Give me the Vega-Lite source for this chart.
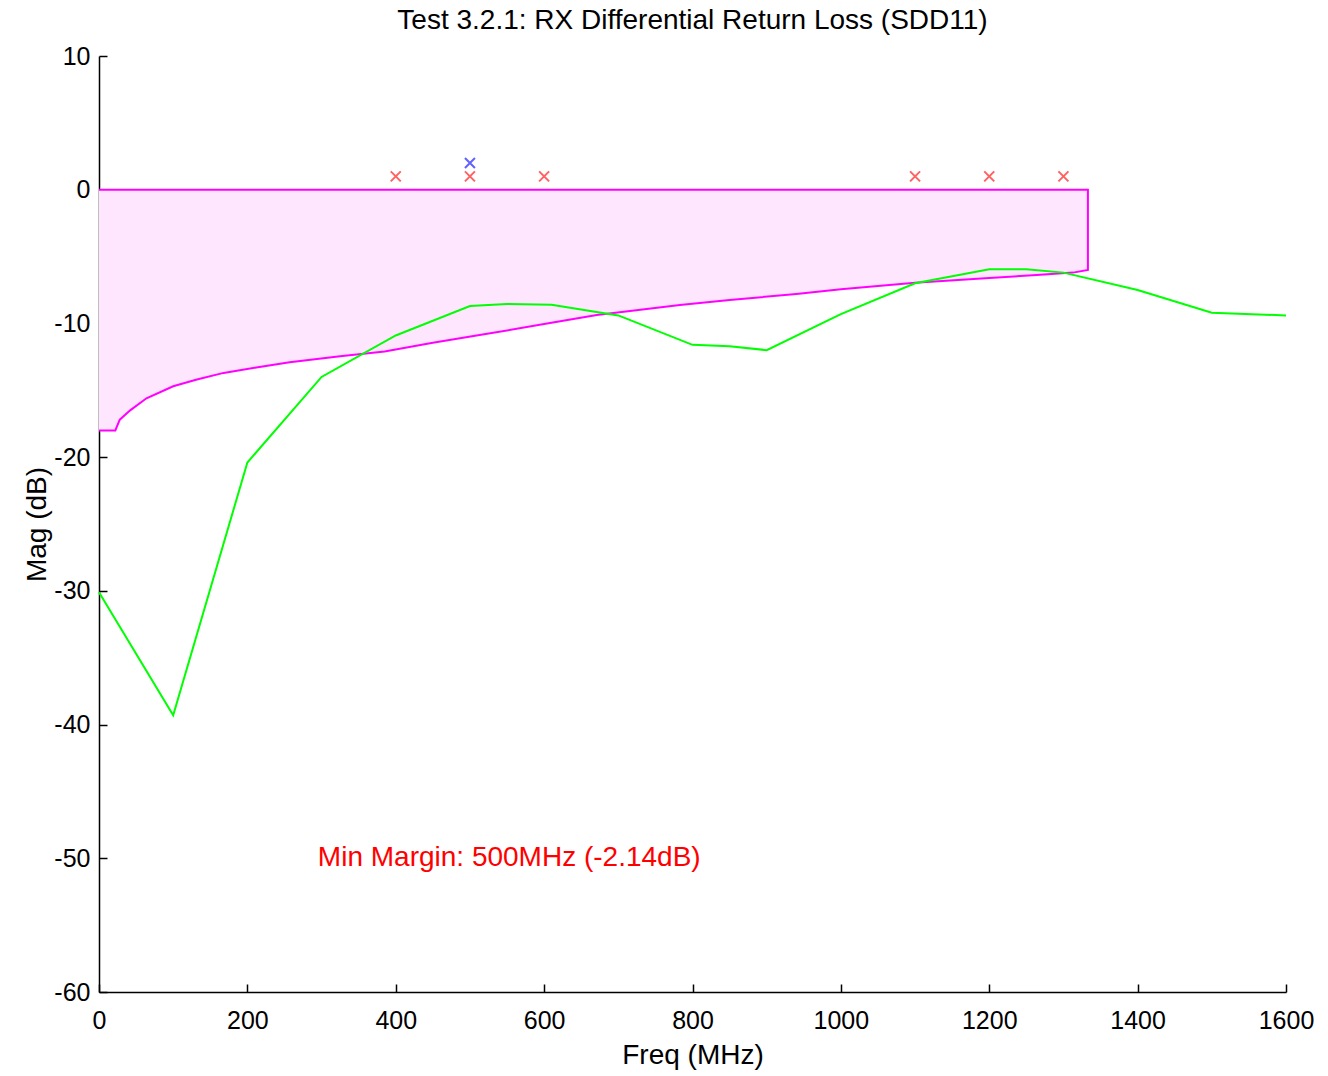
{
  "$schema": "https://vega.github.io/schema/vega-lite/v6.json",
  "autosize": "none",
  "width": 1187,
  "height": 936,
  "padding": {"left": 99, "top": 56, "right": 42, "bottom": 84},
  "background": "white",
  "config": {
    "font": "Liberation Sans",
    "view": {"stroke": null},
    "axis": {
      "grid": false,
      "domainColor": "black",
      "domainWidth": 1.5,
      "tickColor": "black",
      "tickWidth": 1.5,
      "tickSize": -8,
      "labelColor": "black",
      "titleColor": "black",
      "labelFont": "Liberation Sans",
      "titleFont": "Liberation Sans",
      "labelFontSize": 25,
      "titleFontSize": 28,
      "titleFontWeight": "normal",
      "labelFlush": false,
      "labelOverlap": false,
      "labelExpr": "toString(datum.value)"
    }
  },
  "title": {
    "text": "Test 3.2.1: RX Differential Return Loss (SDD11)",
    "fontSize": 28,
    "fontWeight": "normal",
    "color": "black",
    "font": "Liberation Sans",
    "anchor": "middle",
    "offset": 9
  },
  "datasets": {
    "mask": [
      {"f": 0, "lo": -18, "hi": 0},
      {"f": 22, "lo": -18, "hi": 0},
      {"f": 28, "lo": -17.2, "hi": 0},
      {"f": 42, "lo": -16.5, "hi": 0},
      {"f": 64, "lo": -15.6, "hi": 0},
      {"f": 100, "lo": -14.7, "hi": 0},
      {"f": 132, "lo": -14.2, "hi": 0},
      {"f": 168, "lo": -13.7, "hi": 0},
      {"f": 212, "lo": -13.3, "hi": 0},
      {"f": 257, "lo": -12.9, "hi": 0},
      {"f": 325, "lo": -12.45, "hi": 0},
      {"f": 385, "lo": -12.1, "hi": 0},
      {"f": 450, "lo": -11.45, "hi": 0},
      {"f": 513, "lo": -10.87, "hi": 0},
      {"f": 600, "lo": -10.05, "hi": 0},
      {"f": 671, "lo": -9.37, "hi": 0},
      {"f": 783, "lo": -8.62, "hi": 0},
      {"f": 850, "lo": -8.25, "hi": 0},
      {"f": 940, "lo": -7.8, "hi": 0},
      {"f": 1000, "lo": -7.45, "hi": 0},
      {"f": 1100, "lo": -6.95, "hi": 0},
      {"f": 1200, "lo": -6.6, "hi": 0},
      {"f": 1264, "lo": -6.38, "hi": 0},
      {"f": 1313, "lo": -6.2, "hi": 0},
      {"f": 1333, "lo": -6.0, "hi": 0}
    ],
    "outline": [
      {"o": 1, "f": 0, "v": -18},
      {"o": 2, "f": 22, "v": -18},
      {"o": 3, "f": 28, "v": -17.2},
      {"o": 4, "f": 42, "v": -16.5},
      {"o": 5, "f": 64, "v": -15.6},
      {"o": 6, "f": 100, "v": -14.7},
      {"o": 7, "f": 132, "v": -14.2},
      {"o": 8, "f": 168, "v": -13.7},
      {"o": 9, "f": 212, "v": -13.3},
      {"o": 10, "f": 257, "v": -12.9},
      {"o": 11, "f": 325, "v": -12.45},
      {"o": 12, "f": 385, "v": -12.1},
      {"o": 13, "f": 450, "v": -11.45},
      {"o": 14, "f": 513, "v": -10.87},
      {"o": 15, "f": 600, "v": -10.05},
      {"o": 16, "f": 671, "v": -9.37},
      {"o": 17, "f": 783, "v": -8.62},
      {"o": 18, "f": 850, "v": -8.25},
      {"o": 19, "f": 940, "v": -7.8},
      {"o": 20, "f": 1000, "v": -7.45},
      {"o": 21, "f": 1100, "v": -6.95},
      {"o": 22, "f": 1200, "v": -6.6},
      {"o": 23, "f": 1264, "v": -6.38},
      {"o": 24, "f": 1313, "v": -6.2},
      {"o": 25, "f": 1333, "v": -6.0},
      {"o": 26, "f": 1333, "v": 0},
      {"o": 27, "f": 0, "v": 0}
    ],
    "meas": [
      {"f": 0, "v": -30.1},
      {"f": 100, "v": -39.3},
      {"f": 200, "v": -20.4},
      {"f": 300, "v": -14.0},
      {"f": 400, "v": -10.9},
      {"f": 500, "v": -8.7},
      {"f": 550, "v": -8.55},
      {"f": 610, "v": -8.6},
      {"f": 700, "v": -9.4},
      {"f": 800, "v": -11.6},
      {"f": 850, "v": -11.7},
      {"f": 900, "v": -12.0},
      {"f": 1000, "v": -9.3},
      {"f": 1100, "v": -7.0},
      {"f": 1200, "v": -5.95},
      {"f": 1250, "v": -5.95},
      {"f": 1300, "v": -6.2},
      {"f": 1400, "v": -7.5},
      {"f": 1500, "v": -9.2},
      {"f": 1600, "v": -9.4}
    ],
    "marks": [
      {"f": 400, "v": 1, "c": "red"},
      {"f": 500, "v": 1, "c": "red"},
      {"f": 600, "v": 1, "c": "red"},
      {"f": 1100, "v": 1, "c": "red"},
      {"f": 1200, "v": 1, "c": "red"},
      {"f": 1300, "v": 1, "c": "red"},
      {"f": 500, "v": 2, "c": "blue"}
    ],
    "note": [
      {"f": 295, "v": -50, "t": "Min Margin: 500MHz (-2.14dB)"}
    ]
  },
  "layer": [
    {
      "data": {"name": "mask"},
      "mark": {"type": "area", "color": "#FFE6FF", "opacity": 1},
      "encoding": {
        "x": {"field": "f", "type": "quantitative",
              "scale": {"domain": [0, 1600], "nice": false, "zero": false},
              "axis": {"values": [0, 200, 400, 600, 800, 1000, 1200, 1400, 1600], "title": "Freq (MHz)", "labelPadding": 24, "titlePadding": 8}},
        "y": {"field": "lo", "type": "quantitative",
              "scale": {"domain": [-60, 10], "nice": false, "zero": false},
              "axis": {"values": [-60, -50, -40, -30, -20, -10, 0, 10], "title": "Mag (dB)", "labelPadding": 17, "titlePadding": 2}},
        "y2": {"field": "hi"}
      }
    },
    {
      "data": {"name": "outline"},
      "mark": {"type": "line", "color": "#FF00FF", "strokeWidth": 2},
      "encoding": {
        "x": {"field": "f", "type": "quantitative"},
        "y": {"field": "v", "type": "quantitative"},
        "order": {"field": "o", "type": "quantitative"}
      }
    },
    {
      "data": {"name": "meas"},
      "mark": {"type": "line", "color": "#00FF00", "strokeWidth": 2},
      "encoding": {
        "x": {"field": "f", "type": "quantitative"},
        "y": {"field": "v", "type": "quantitative"}
      }
    },
    {
      "data": {"name": "marks"},
      "mark": {"type": "point", "shape": "M-1,-1L1,1M-1,1L1,-1", "filled": false, "size": 100, "strokeWidth": 2},
      "encoding": {
        "x": {"field": "f", "type": "quantitative"},
        "y": {"field": "v", "type": "quantitative"},
        "color": {"field": "c", "type": "nominal", "scale": {"domain": ["red", "blue"], "range": ["#FF2020", "#2020FF"]}, "legend": null}
      }
    },
    {
      "data": {"name": "note"},
      "mark": {"type": "text", "align": "left", "baseline": "middle", "color": "#FF0000", "fontSize": 28, "font": "Liberation Sans"},
      "encoding": {
        "x": {"field": "f", "type": "quantitative"},
        "y": {"field": "v", "type": "quantitative"},
        "text": {"field": "t"}
      }
    }
  ]
}
